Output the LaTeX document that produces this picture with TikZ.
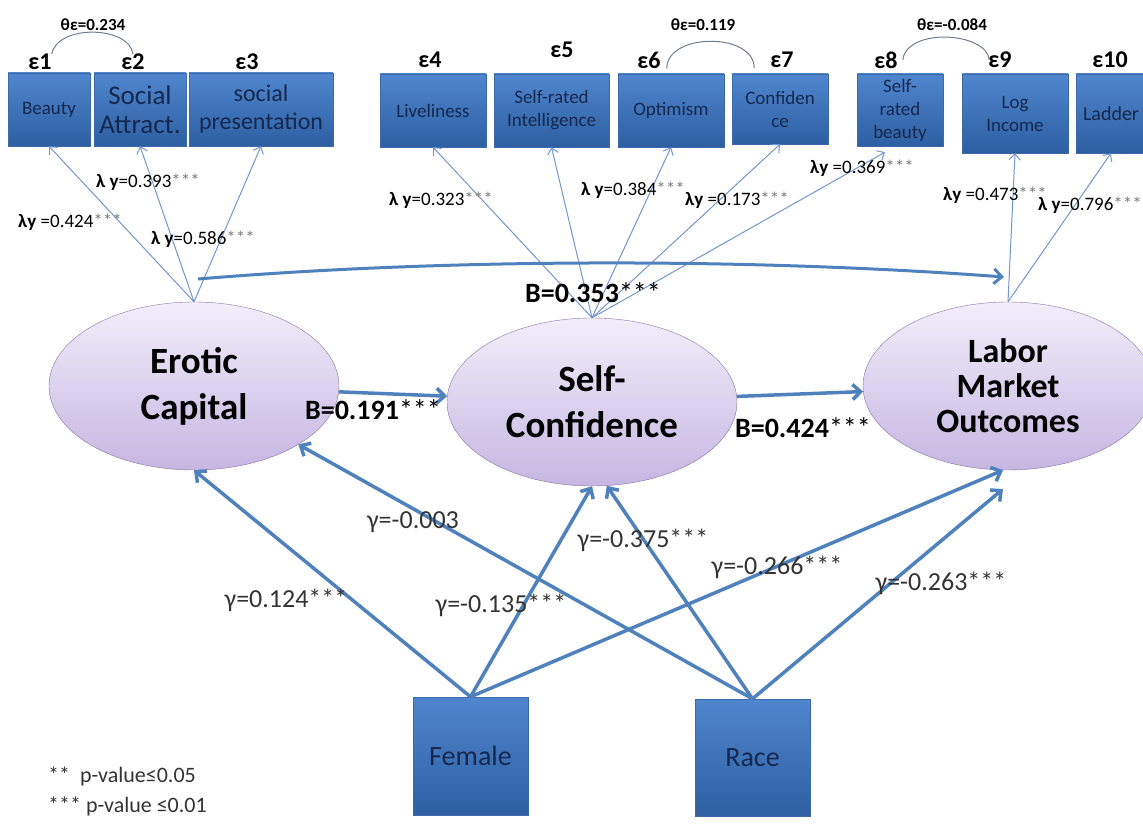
\documentclass[tikz,border=0pt]{standalone}
\usepackage{fontspec}
\setmainfont{Carlito}
\usetikzlibrary{shapes.geometric,arrows.meta}
\definecolor{boxtop}{RGB}{79,134,205}
\definecolor{boxbot}{RGB}{45,95,162}
\definecolor{boxedge}{RGB}{60,105,170}
\definecolor{boxtext}{RGB}{22,40,80}
\definecolor{elltop}{RGB}{242,238,250}
\definecolor{ellbot}{RGB}{198,182,226}
\definecolor{elledge}{RGB}{135,115,165}
\definecolor{pathblue}{RGB}{79,129,189}
\definecolor{loadblue}{RGB}{115,150,205}
\definecolor{covgray}{RGB}{110,125,145}
\definecolor{stargray}{RGB}{125,125,125}
\begin{document}
\begin{tikzpicture}[x=1pt,y=-1pt,
  obs/.style={draw=boxedge,top color=boxtop,bottom color=boxbot,text=boxtext,align=center,inner sep=0pt,font=\fontsize{19}{23}\selectfont},
  latent/.style={ellipse,draw=elledge,top color=elltop,bottom color=ellbot,align=center,inner sep=0pt,minimum width=290pt,minimum height=168pt,font=\bfseries\fontsize{37}{46}\selectfont},
  err/.style={font=\bfseries\fontsize{24}{28}\selectfont,inner sep=0pt},
  cov/.style={draw=covgray,line width=1pt},
  load/.style={draw=loadblue,line width=1pt,-{Straight Barb[length=6pt,width=11pt]}},
  effect/.style={draw=pathblue,line width=3.5pt,-{Straight Barb[length=8pt,width=15pt]}},
  lam/.style={font=\fontsize{19}{22}\selectfont,inner sep=0pt},
  gam/.style={font=\fontsize{26}{30}\selectfont,text=black!80,inner sep=0pt},
  beta/.style={font=\bfseries\fontsize{28}{32}\selectfont,inner sep=0pt}]
\useasboundingbox (0,0) rectangle (1143,832);
\node[latent] (ec) at (194,386) {Erotic\\Capital};
\node[latent] (sc) at (592,402) {Self-\\Confidence};
\node[latent,font=\bfseries\fontsize{34}{35}\selectfont] (lmo) at (1008,386) {Labor\\Market\\Outcomes};
\node[obs,minimum width=82pt,minimum height=73pt] (b1) at (49,109.5) {Beauty};
\node[obs,minimum width=92pt,minimum height=73pt,font=\fontsize{27}{29}\selectfont] (b2) at (140,109.5) {Social\\Attract.};
\node[obs,minimum width=144pt,minimum height=73pt,font=\fontsize{24}{28}\selectfont] (b3) at (261,109.5) {social\\presentation};
\node[obs,minimum width=106pt,minimum height=73pt] (b4) at (433,110.5) {Liveliness};
\node[obs,minimum width=115pt,minimum height=73pt] (b5) at (551.5,110.5) {Self-rated\\Intelligence};
\node[obs,minimum width=106pt,minimum height=73pt] (b6) at (671,110.5) {Optimism};
\node[obs,minimum width=96pt,minimum height=70pt] (b7) at (780,109) {Confiden\\ce};
\node[obs,minimum width=86pt,minimum height=72pt] (b8) at (900,110) {Self-\\rated\\beauty};
\node[obs,minimum width=106pt,minimum height=79pt] (b9) at (1015,113.5) {Log\\Income};
\node[obs,minimum width=70pt,minimum height=79pt,font=\fontsize{20}{24}\selectfont] (b10) at (1111,113.5) {Ladder};
\node[obs,minimum width=115pt,minimum height=118pt,font=\fontsize{28}{32}\selectfont] (female) at (470.5,756) {Female};
\node[obs,minimum width=115pt,minimum height=117pt,font=\fontsize{28}{32}\selectfont] (race) at (752.5,757.5) {Race};
\node[err] (e1) at (40,62) {ε1};
\node[err] (e2) at (133,62) {ε2};
\node[err] (e3) at (247,62) {ε3};
\node[err] (e4) at (430,60) {ε4};
\node[err] (e5) at (562,50) {ε5};
\node[err] (e6) at (649,60) {ε6};
\node[err] (e7) at (782,60) {ε7};
\node[err] (e8) at (886,60) {ε8};
\node[err] (e9) at (1000,60) {ε9};
\node[err] (e10) at (1110,60) {ε10};
\node[lam,font=\bfseries\fontsize{17}{20}\selectfont] (t1) at (93,25) {θε=0.234};
\node[lam,font=\bfseries\fontsize{17}{20}\selectfont] (t2) at (703,25) {θε=0.119};
\node[lam,font=\bfseries\fontsize{17}{20}\selectfont] (t3) at (952,25) {θε=-0.084};
\draw[cov] (e1.north east) .. controls +(6,-30) and +(-4,-28) .. (e2.north);
\draw[cov] ([xshift=6pt]e6.south east) .. controls +(0,-36) and +(0,-36) .. ([xshift=-16pt]e7.south west);
\draw[cov] ([xshift=5pt]e8.east) .. controls +(4,-33) and +(-2,-28) .. ([xshift=1pt]e9.west);
\draw[load] (ec.north) -- (b1.south);
\draw[load] (ec.north) -- (b2.south);
\draw[load] (ec.north) -- (b3.south);
\draw[load] (sc.north) -- (b4.south);
\draw[load] (sc.north) -- (b5.south);
\draw[load] (sc.north) -- (b6.south);
\draw[load] (sc.north) -- (b7.south);
\draw[load] (sc.north) -- ([xshift=-15pt,yshift=-6pt]b8.south);
\draw[load] (lmo.north) -- (b9.south);
\draw[load] (lmo.north) -- (b10.south);
\node[lam] (l1) at (70,222) {\textbf{λy} =0.424\textcolor{stargray}{***}};
\node[lam] (l2) at (148,182) {\textbf{λ y}=0.393\textcolor{stargray}{***}};
\node[lam] (l3) at (203,239) {\textbf{λ y}=0.586\textcolor{stargray}{***}};
\node[lam] (l4) at (441,200) {\textbf{λ y}=0.323\textcolor{stargray}{***}};
\node[lam] (l5) at (633,190) {\textbf{λ y}=0.384\textcolor{stargray}{***}};
\node[lam] (l6) at (737,200) {\textbf{λy} =0.173\textcolor{stargray}{***}};
\node[lam] (l7) at (862,168) {\textbf{λy} =0.369\textcolor{stargray}{***}};
\node[lam] (l9) at (995,195) {\textbf{λy} =0.473\textcolor{stargray}{***}};
\node[lam] (l10) at (1090,205) {\textbf{λ y}=0.796\textcolor{stargray}{***}};
\coordinate (cs) at (198,279);
\coordinate (ce) at (1004,277);
\draw[effect,line width=3pt] (cs) .. controls (450,258) and (750,258) .. (ce);
\node[beta] (b353) at (593,293) {B=0.353\textmd{***}};
\draw[effect] (ec) -- (sc);
\draw[effect] (sc) -- (lmo);
\node[beta] (b191) at (373,410) {B=0.191\textmd{***}};
\node[beta] (b424) at (803,428) {B=0.424\textmd{***}};
\draw[effect] (female.north) -- (ec.south);
\draw[effect] (female.north) -- (sc.south);
\draw[effect] (female.north) -- ([xshift=-5pt]lmo.south);
\coordinate (lmoin) at (1003,489);
\draw[effect] (race.north) -- (ec);
\draw[effect] (race.north) -- (sc.-80);
\draw[effect] (race.north) -- (lmoin);
\node[gam] (g1) at (286,600) {γ=0.124***};
\node[gam] (g2) at (413,522) {γ=-0.003};
\node[gam] (g3) at (501,605) {γ=-0.135***};
\node[gam] (g4) at (643,540) {γ=-0.375***};
\node[gam] (g5) at (777,567) {γ=-0.266***};
\node[gam] (g6) at (941,583) {γ=-0.263***};
\node[gam,anchor=west,font=\fontsize{22}{26}\selectfont] (p1) at (48,776) {**\ \ p-value≤0.05};
\node[gam,anchor=west,font=\fontsize{22}{26}\selectfont] (p2) at (48,806) {*** p-value ≤0.01};
\end{tikzpicture}
\end{document}
